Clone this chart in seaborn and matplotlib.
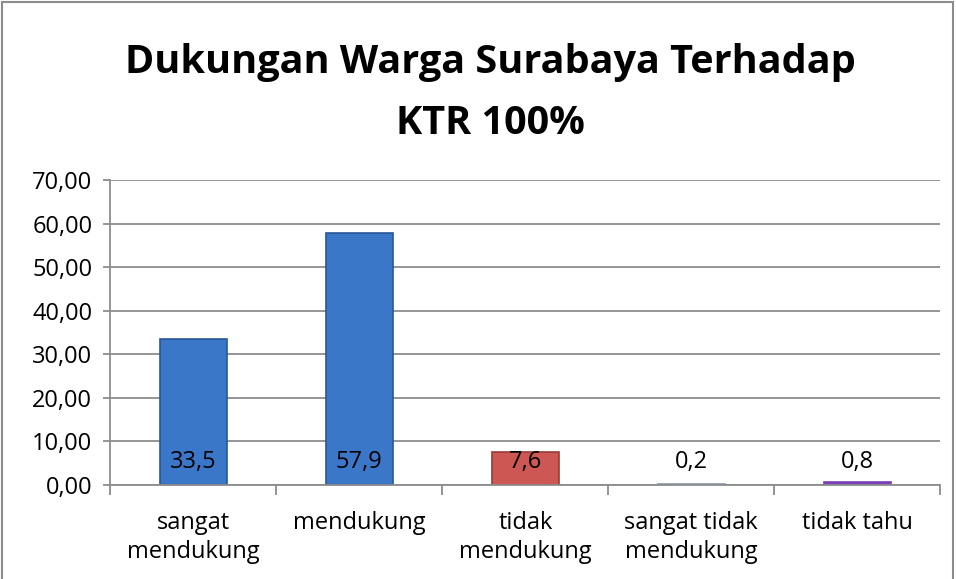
import matplotlib
matplotlib.use("Agg")
import matplotlib.pyplot as plt
import seaborn as sns
import pandas as pd
from matplotlib.patches import Rectangle

categories = ["sangat\nmendukung", "mendukung", "tidak\nmendukung", "sangat tidak\nmendukung", "tidak tahu"]
values = [33.5, 57.9, 7.6, 0.2, 0.8]
value_labels = ["33,5", "57,9", "7,6", "0,2", "0,8"]
colors = ["#3B77C8", "#3B77C8", "#CC5753", "#8497B0", "#7B3FB8"]
edge_colors = ["#2A5797", "#2A5797", "#9A3A37", "#8497B0", "#7B3FB8"]
yticks = [0, 10, 20, 30, 40, 50, 60, 70]
title = "Dukungan Warga Surabaya Terhadap\nKTR 100%"

sns.set_theme(style="white")
plt.rcParams['font.family'] = ['Open Sans', 'DejaVu Sans']
plt.rcParams['text.color'] = 'black'
plt.rcParams['xtick.labelcolor'] = 'black'
plt.rcParams['ytick.labelcolor'] = 'black'

df = pd.DataFrame({"cat": categories, "val": values})

fig = plt.figure(figsize=(9.56, 5.79), dpi=100)
ax = fig.add_axes([0.1155, 0.1623, 0.868, 0.5268])

sns.barplot(data=df, x="cat", y="val", hue="cat", palette=colors, width=0.405,
            legend=False, ax=ax, edgecolor="none", saturation=1)

for p, ec in zip(ax.patches, edge_colors):
    p.set_edgecolor(ec)
    p.set_linewidth(1.2)

ax.set_ylim(0, 70)
ax.set_xlim(-0.5, len(categories) - 0.5)
ax.set_yticks(yticks)
ax.set_yticklabels([f"{t:.2f}".replace(".", ",") for t in yticks], fontsize=17, color="black")
ax.set_xticks(range(len(categories)))
ax.set_xticklabels(categories, fontsize=17, linespacing=1.28, color="black")
ax.set_xlabel("")
ax.set_ylabel("")

ax.yaxis.grid(True, color="#8C8C8C", linewidth=1.3)
ax.set_axisbelow(True)
for s in ["top", "right"]:
    ax.spines[s].set_visible(False)
ax.spines["left"].set_color("#8C8C8C")
ax.spines["bottom"].set_color("#8C8C8C")
ax.spines["left"].set_linewidth(1.3)
ax.spines["bottom"].set_linewidth(1.3)

ax.tick_params(axis="y", which="both", left=True, length=5, color="#8C8C8C", width=1.3, pad=8)
ax.tick_params(axis="x", which="major", bottom=False, pad=13)
ax.set_xticks([i + 0.5 for i in range(-1, len(categories))], minor=True)
ax.tick_params(axis="x", which="minor", bottom=True, length=7, color="#8C8C8C", width=1.3)

for i, lab in enumerate(value_labels):
    ax.text(i, 5.2, lab, ha="center", va="center", fontsize=17, color="black")

fig.text(0.5125, 0.839, title, ha="center", va="center", fontsize=28.5, fontweight="bold",
         linespacing=1.72, color="black")

fig.patches.append(Rectangle((0.002, -0.01), 0.995, 1.007, transform=fig.transFigure,
                             fill=False, edgecolor="#8C8C8C", linewidth=1.5))

fig.savefig("out.png", dpi=100)
